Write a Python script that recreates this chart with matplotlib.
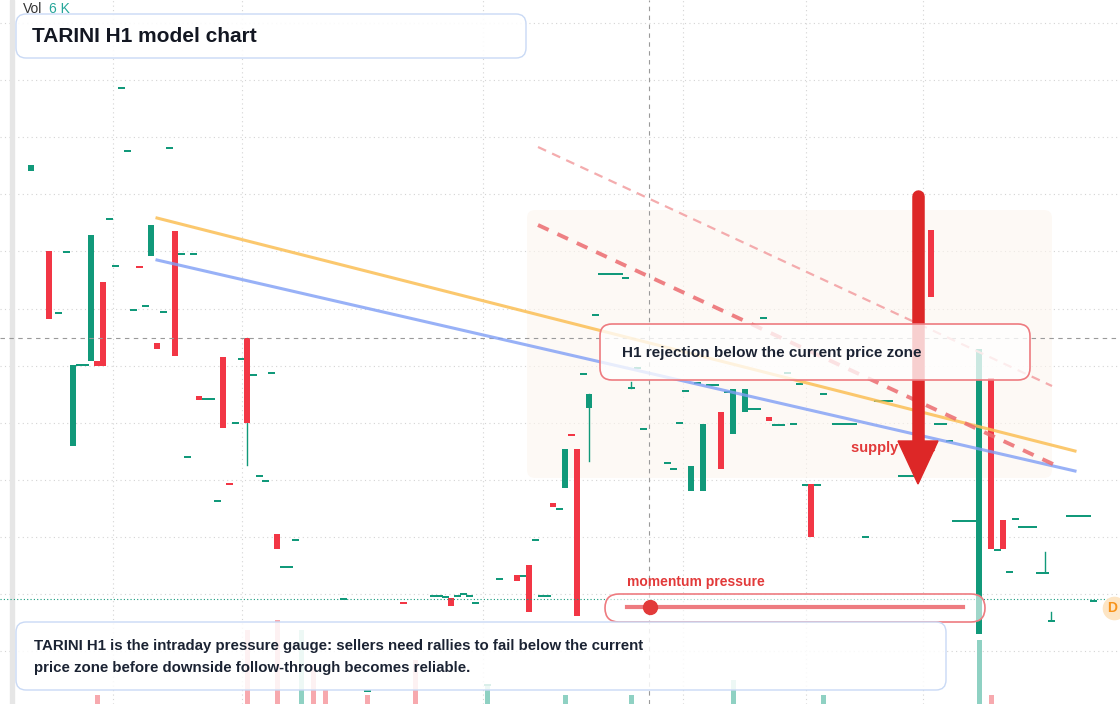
import matplotlib.pyplot as plt
from matplotlib.patches import FancyBboxPatch, Rectangle, Polygon

plt.rcParams['font.family'] = ['Liberation Sans', 'DejaVu Sans']

# candle data: x slot, open, close (chart units, axis inverted), color flag (1 = up/green)
cx = [31, 49, 58, 66, 73, 79, 85, 91, 97, 103, 109, 115, 121, 127, 133, 139, 145, 151, 157, 163,
      169, 175, 181, 187, 193, 199, 205, 211, 217, 223, 229, 235, 241, 247, 253, 259, 265, 271, 277,
      283, 289, 295, 343, 367, 403, 433, 439, 445, 451, 457, 463, 469, 475, 487, 499, 517, 523, 529,
      535, 541, 547, 553, 559, 565, 571, 577, 583, 589, 595, 601, 607, 613, 619, 625, 631, 637, 643,
      667, 673, 679, 685, 691, 697, 703, 709, 715, 721, 727, 733, 745, 751, 757, 763, 769, 775, 781,
      787, 793, 799, 805, 811, 817, 823, 835, 841, 847, 853, 865, 877, 883, 889, 901, 907, 913, 919,
      931, 937, 943, 949, 955, 961, 967, 973, 979, 991, 997, 1003, 1009, 1015, 1021, 1027, 1033,
      1039, 1045, 1051, 1069, 1075, 1081, 1087, 1093]
c_top = [165, 251, 312, 251, 365, 364, 364, 235, 361, 282, 218, 265, 87, 150, 309, 266, 305, 225, 343, 311,
         147, 231, 253, 456, 253, 396, 398, 398, 500, 357, 483, 422, 358, 338, 374, 475, 480, 372, 534,
         566, 566, 539, 598, 690, 602, 595, 595, 596, 598, 595, 593, 595, 602, 684, 578, 575, 575, 565,
         539, 595, 595, 503, 508, 449, 434, 449, 373, 394, 314, 273, 273, 273, 273, 277, 387, 367, 428,
         462, 468, 422, 390, 466, 382, 424, 384, 384, 412, 391, 389, 389, 408, 408, 317, 417, 424, 424,
         372, 423, 383, 484, 484, 484, 393, 423, 423, 423, 423, 536, 400, 400, 400, 475, 475, 475, 377,
         230, 423, 423, 440, 520, 520, 520, 520, 349, 378, 549, 520, 571, 518, 526, 526, 526,
         572, 572, 620, 515, 515, 515, 515, 600]
c_bot = [171, 319, 313, 252, 446, 365, 365, 361, 366, 366, 219, 266, 88, 151, 310, 268, 306, 256, 349, 312,
         148, 356, 254, 457, 254, 400, 399, 399, 501, 428, 485, 423, 359, 423, 375, 476, 481, 373, 549,
         567, 567, 540, 599, 691, 604, 596, 596, 597, 606, 596, 594, 596, 603, 685, 579, 581, 576, 612,
         540, 596, 596, 507, 509, 488, 436, 616, 374, 408, 315, 274, 274, 274, 274, 278, 388, 368, 429,
         463, 469, 423, 391, 491, 383, 491, 385, 385, 469, 392, 434, 412, 409, 409, 318, 421, 425, 425,
         373, 424, 384, 485, 537, 485, 394, 424, 424, 424, 424, 537, 401, 401, 401, 476, 476, 476, 435,
         297, 424, 424, 441, 521, 521, 521, 521, 634, 549, 550, 549, 572, 519, 527, 527, 527,
         573, 573, 621, 516, 516, 516, 516, 601]
c_up = [1, 0, 1, 1, 1, 1, 1, 1, 0, 0, 1, 1, 1, 1, 1, 0, 1, 1, 0, 1,
        1, 0, 1, 1, 1, 0, 1, 1, 1, 0, 0, 1, 1, 0, 1, 1, 1, 1, 0,
        1, 1, 1, 1, 1, 0, 1, 1, 1, 0, 1, 1, 1, 1, 1, 1, 0, 1, 0,
        1, 1, 1, 0, 1, 1, 0, 0, 1, 1, 1, 1, 1, 1, 1, 1, 1, 1, 1,
        1, 1, 1, 1, 1, 1, 1, 1, 1, 0, 1, 1, 1, 1, 1, 1, 0, 1, 1,
        1, 1, 1, 1, 0, 1, 1, 1, 1, 1, 1, 1, 1, 1, 1, 1, 1, 1, 1,
        0, 1, 1, 1, 1, 1, 1, 1, 1, 0, 1, 0, 1, 1, 1, 1, 1,
        1, 1, 1, 1, 1, 1, 1, 1]
# wicks: x, high, low
wick_x = [247, 589, 1045, 1051, 631]
wick_hi = [338, 394, 552, 612, 382]
wick_lo = [465, 461, 572, 620, 388]

# volume bars (bottom pane)
vol_x = [97, 247, 277, 301, 313, 325, 367, 415, 487, 565, 631, 733, 823, 979, 991]
vol_top = [695, 630, 620, 630, 665, 690, 695, 660, 684, 695, 695, 680, 695, 640, 695]
vol_up = [0, 0, 0, 1, 0, 0, 0, 0, 1, 1, 1, 1, 1, 1, 0]

# model lines
orange_x = [157, 1075]
orange_y = [218, 451]
blue_x = [157, 1075]
blue_y = [260, 471]
red_dash_x = [538, 1055]
red_dash_y = [225, 465]
pink_dash_x = [538, 1052]
pink_dash_y = [147, 386]

grid_x = [113, 242, 483, 683, 806, 923]
grid_y = [23, 80, 137, 194, 251, 309, 366, 423, 480, 537, 594, 651]

GREEN = '#11997a'
RED = '#f23645'

fig = plt.figure(figsize=(11.2, 7.04), dpi=100)
ax = fig.add_axes([0, 0, 1, 1])
ax.set_xlim(0, 1120)
ax.set_ylim(704, 0)
ax.axis('off')

# grid
for gx in grid_x:
    ax.axvline(gx, color='#d4d4d4', lw=0.8, ls=(0, (1, 3)), zorder=0)
for gy in grid_y:
    ax.axhline(gy, color='#d4d4d4', lw=0.8, ls=(0, (1, 3)), zorder=0)
ax.add_patch(Rectangle((10, 0), 4, 704, color='#e6e6e6', zorder=1))

# supply zone shading
ax.add_patch(FancyBboxPatch((527, 210), 525, 268, boxstyle='round,pad=0,rounding_size=8',
                            fc='#fdf6ef', ec='none', alpha=0.6, zorder=0.5))

# volume
for x, t, u in zip(vol_x, vol_top, vol_up):
    ax.bar(x, 704 - t, bottom=t, width=5, color='#8fd1c3' if u else '#f7a9ae', zorder=1)

# candles
for x, hi, lo in zip(wick_x, wick_hi, wick_lo):
    ax.plot([x, x], [hi, lo], color=GREEN, lw=1, zorder=2)
for x, t, b, u in zip(cx, c_top, c_bot, c_up):
    ax.bar(x, max(b - t, 1.5), bottom=t, width=6 if b - t > 2 else 7,
           color=GREEN if u else RED, zorder=2)

# crosshair and last price line
ax.axvline(649, color='#9a9a9a', lw=0.8, ls=(0, (4, 4)), zorder=3)
ax.axhline(338, color='#9a9a9a', lw=0.8, ls=(0, (4, 4)), zorder=3)
ax.axhline(599, color=GREEN, lw=0.8, ls=(0, (1, 2)), zorder=3)

# model lines
ax.plot(orange_x, orange_y, color='#fbbf55', lw=2.2, alpha=0.85, zorder=4)
ax.plot(blue_x, blue_y, color='#7f9ef5', lw=2.2, alpha=0.8, zorder=4)
ax.plot(red_dash_x, red_dash_y, color='#ec6b6f', lw=2.8, ls=(0, (3, 2.5)), alpha=0.85, zorder=4)
ax.plot(pink_dash_x, pink_dash_y, color='#f3a3a5', lw=1.6, ls=(0, (4, 3)), alpha=0.9, zorder=4)

ax.text(851, 448, 'supply zone', fontsize=10.5, fontweight='bold', color='#e23a3a', va='center', zorder=4.5)

# arrow
ax.plot([918, 918], [196, 445], color='#dd2727', lw=9, solid_capstyle='round', zorder=4.6)
ax.add_patch(Polygon([[898, 441], [938, 441], [918, 484]], closed=True, color='#dd2727', zorder=4.6))

# annotation box (drawn over the arrow)
ax.add_patch(FancyBboxPatch((600, 324), 430, 56, boxstyle='round,pad=0,rounding_size=12',
                            fc=(1, 1, 1, 0.78), ec='#ee7b80', lw=1.2, zorder=5))
ax.text(622, 353, 'H1 rejection below the current price zone', fontsize=11, fontweight='bold',
        color='#1b2333', va='center', zorder=6)

# momentum slider
ax.text(627, 582, 'momentum pressure', fontsize=10, fontweight='bold', color='#e23a3a', va='center', zorder=6)
ax.add_patch(FancyBboxPatch((605, 594), 380, 28, boxstyle='round,pad=0,rounding_size=14',
                            fc=(1, 1, 1, 0.6), ec='#ee7b80', lw=1.2, zorder=5))
ax.plot([627, 963], [607, 607], color='#ee7b80', lw=3, zorder=6)
ax.plot([650], [607], 'o', color='#e23a3a', ms=10, zorder=7)

# bottom explainer
ax.add_patch(FancyBboxPatch((16, 622), 930, 68, boxstyle='round,pad=0,rounding_size=10',
                            fc=(1, 1, 1, 0.85), ec='#c9d9f5', lw=1, zorder=5))
ax.text(34, 657, 'TARINI H1 is the intraday pressure gauge: sellers need rallies to fail below the current\n'
        'price zone before downside follow-through becomes reliable.', fontsize=10.8, fontweight='bold',
        color='#1b2333', va='center', linespacing=1.65, zorder=6)

# title
ax.add_patch(FancyBboxPatch((16, 14), 510, 44, boxstyle='round,pad=0,rounding_size=10',
                            fc=(1, 1, 1, 0.9), ec='#c9d9f5', lw=1, zorder=5))
ax.text(32, 36, 'TARINI H1 model chart', fontsize=15, fontweight='bold', color='#131722', va='center', zorder=6)
ax.text(23, 9, 'Vol', fontsize=10, color='#333333', va='center', zorder=6)
ax.text(49, 9, '6 K', fontsize=10, color='#26a69a', va='center', zorder=6)

# D badge
ax.plot([1114], [608], 'o', color='#fde5c4', ms=16, zorder=6)
ax.text(1107, 608, 'D', fontsize=10, fontweight='bold', color='#f7931a', va='center', zorder=7)

fig.savefig('out.png', dpi=100)
